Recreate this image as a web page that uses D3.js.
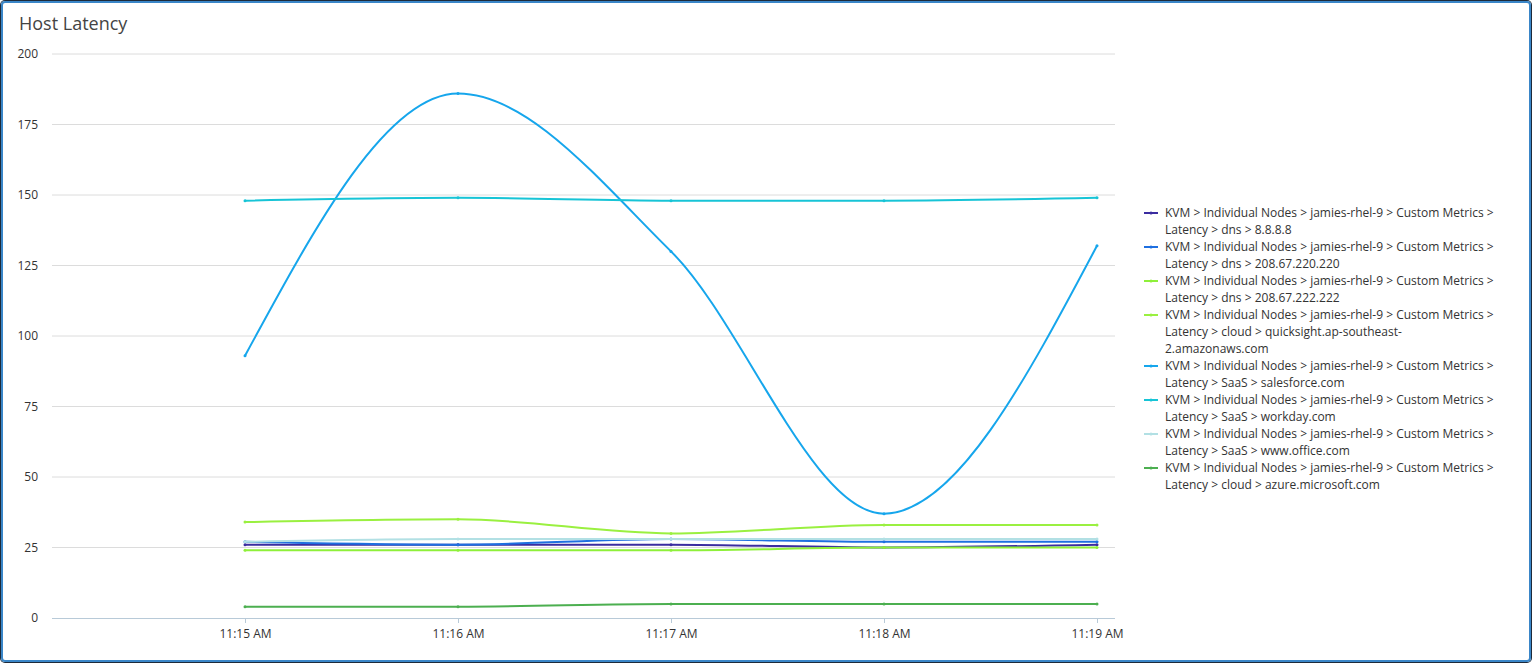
<!DOCTYPE html>
<html>
<head>
<meta charset="utf-8">
<script src="https://cdn.jsdelivr.net/npm/d3@7"></script>
<style>
  body { margin: 0; background: #fff; font-family: "Open Sans", sans-serif; }
  .frame { position: absolute; left: 1px; top: 1px; width: 1526px; height: 657px;
           border: 2px solid #3a86c8; border-radius: 4px; box-shadow: 0 0 0 1px #1d2a3a; }
  .axis text { font-size: 12px; fill: #333; font-family: "Open Sans", sans-serif; }
</style>
</head>
<body>
<div class="frame"></div>
<svg id="chart" width="1532" height="663" style="position:absolute;left:0;top:0"></svg>
<script>
// time labels on the x axis
const times = ["11:15 AM", "11:16 AM", "11:17 AM", "11:18 AM", "11:19 AM"];
const yTicks = [0, 25, 50, 75, 100, 125, 150, 175, 200];

const prefix = "KVM > Individual Nodes > jamies-rhel-9 > Custom Metrics >";
const seriesNames = [
  ["Latency > dns > 8.8.8.8"],
  ["Latency > dns > 208.67.220.220"],
  ["Latency > dns > 208.67.222.222"],
  ["Latency > cloud > quicksight.ap-southeast-", "2.amazonaws.com"],
  ["Latency > SaaS > salesforce.com"],
  ["Latency > SaaS > workday.com"],
  ["Latency > SaaS > www.office.com"],
  ["Latency > cloud > azure.microsoft.com"]
];
const seriesColors = ["#3b2ca0", "#1e6fe0", "#8ef03a", "#9af040", "#16a6ec", "#17c4d6", "#b2e0e4", "#4caf50"];

const dns8888 = [26, 26, 26, 25, 26];
const dns220 = [27, 26, 28, 27, 27];
const dns222 = [24, 24, 24, 25, 25];
const quicksight = [34, 35, 30, 33, 33];
const salesforce = [93, 186, 130, 37, 132];
const workday = [148, 149, 148, 148, 149];
const office = [27, 28, 28, 28, 28];
const azure = [4, 4, 5, 5, 5];
const seriesValues = [dns8888, dns220, dns222, quicksight, salesforce, workday, office, azure];

const svg = d3.select("#chart");

svg.append("text").attr("x", 19).attr("y", 30)
  .style("font-size", "18px").style("fill", "#444").text("Host Latency");

const plotLeft = 52, plotRight = 1115, plotTop = 54, plotBottom = 618;

const x = d3.scalePoint().domain(times).range([245, 1097]);
const y = d3.scaleLinear().domain([0, 200]).range([plotBottom, plotTop]);

// grid lines
svg.append("g").selectAll("line").data(yTicks.slice(1)).join("line")
  .attr("x1", plotLeft).attr("x2", plotRight)
  .attr("y1", d => y(d)).attr("y2", d => y(d))
  .attr("stroke", "#dcdcdc");

const yAxis = svg.append("g").attr("class", "axis")
  .attr("transform", `translate(${plotLeft - 14},0)`)
  .call(d3.axisLeft(y).tickValues(yTicks).tickSize(0).tickPadding(0));
yAxis.select(".domain").remove();

const xAxis = svg.append("g").attr("class", "axis")
  .attr("transform", `translate(0,${plotBottom})`)
  .call(d3.axisBottom(x).tickSize(5).tickPadding(6));
xAxis.select(".domain").attr("d", `M${plotLeft},0.5H${plotRight}`).attr("stroke", "#b8cad8");
xAxis.selectAll(".tick line").attr("stroke", "#b8cad8");

const line = d3.line()
  .x((d, i) => x(times[i]))
  .y(d => y(d))
  .curve(d3.curveMonotoneX);

seriesValues.forEach((vals, k) => {
  svg.append("path").datum(vals)
    .attr("fill", "none").attr("stroke", seriesColors[k]).attr("stroke-width", 2)
    .attr("d", line);
  svg.append("g").selectAll("circle").data(vals).join("circle")
    .attr("cx", (d, i) => x(times[i])).attr("cy", d => y(d)).attr("r", 1.5)
    .attr("fill", seriesColors[k]);
});

// legend
const lg = svg.append("g").attr("transform", "translate(1144,0)");
let ly = 213;
seriesNames.forEach((lines, k) => {
  lg.append("line").attr("x1", 0).attr("x2", 14).attr("y1", ly).attr("y2", ly)
    .attr("stroke", seriesColors[k]).attr("stroke-width", 2);
  lg.append("circle").attr("cx", 7).attr("cy", ly).attr("r", 1.5).attr("fill", seriesColors[k]);
  const all = [prefix].concat(lines);
  all.forEach((t, j) => {
    lg.append("text").attr("x", 21).attr("y", ly + 4 + j * 17)
      .style("font-size", "12px").style("fill", "#333").text(t);
  });
  ly += all.length * 17;
});
</script>
</body>
</html>
